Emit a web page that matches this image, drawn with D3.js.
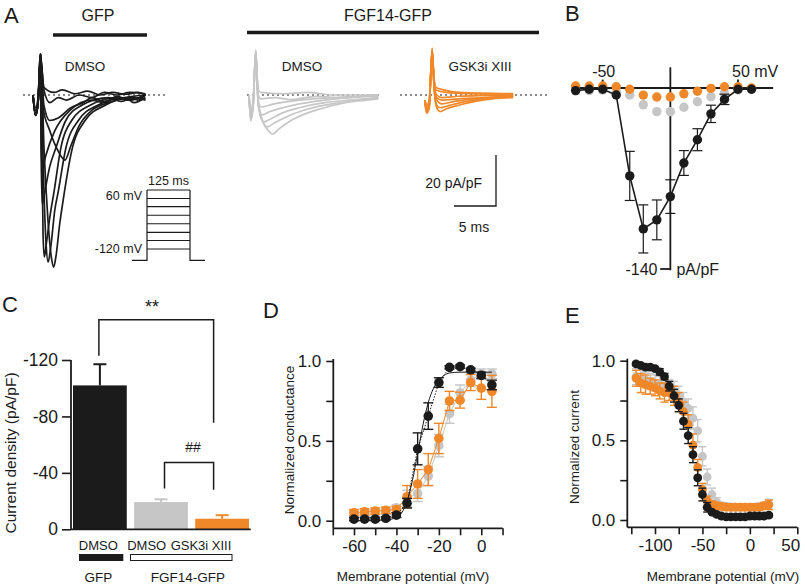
<!DOCTYPE html>
<html><head><meta charset="utf-8">
<script src="https://cdn.jsdelivr.net/npm/d3@7/dist/d3.min.js"></script>
<style>
body{margin:0;background:#fff}
svg{display:block}
text{font-family:"Liberation Sans",Arial,Helvetica,sans-serif;fill:#1a1a1a}
</style>
</head><body>
<svg id="fig" width="805" height="585"></svg>
<script>
// ---------------- DATA ----------------
const BLACK = "#1b1b1b", GRAY = "#c6c6c6", ORANGE = "#f0882a";

// Panel A: current traces, [time ms, current pA/pF]
const tracesGFP = [
  [[0,0],[0.3,-8],[0.6,-3],[0.95,16],[1.3,-20],[1.8,-50],[2.2,-64],[2.45,-67.5],[2.7,-64],[3.2,-50],[3.6,-41],[4.6,-22],[6.2,-10],[8.6,-4],[11.5,-1],[12.5,-2],[13.4,0]],
  [[0,0],[0.3,-8],[0.6,-3],[0.95,16],[1.2,-25],[1.55,-58],[1.8,-65.5],[2.1,-60],[2.6,-45],[3.0,-38],[3.9,-21],[5.4,-10],[7.7,-4],[11,-1],[12,-3],[13.4,-1]],
  [[0,0],[0.3,-8],[0.6,-3],[0.9,16],[1.05,-20],[1.2,-55],[1.35,-63.5],[1.6,-58],[2.0,-48],[2.5,-38],[3.3,-21],[4.6,-10],[6.8,-4],[10,-1],[11.5,-2],[13.4,0]],
  [[0,0],[0.3,-8],[0.6,-3],[0.85,16],[1.0,-30],[1.1,-43],[1.4,-38],[2.0,-28],[2.7,-21],[3.9,-10],[5.8,-4],[9,-1],[10.5,-2.5],[12,-1],[13.4,-2]],
  [[0,0],[0.3,-8],[0.6,-3],[0.85,16],[1.0,-22],[1.1,-29],[1.5,-24],[2.6,-14],[4.4,-6],[7,-2],[8.5,-3],[10,-0.5],[11.5,-2],[13.4,0]],
  [[0,0],[0.3,-8],[0.6,-3],[0.9,16],[1.2,-5],[2,-14],[3,-22],[3.8,-25.5],[4.5,-20],[5.5,-12],[7,-6],[9,-3],[11,-1],[13.4,0]],
  [[0,0],[0.3,-8],[0.6,-3],[0.9,16],[1.3,-4],[2,-10],[3,-9],[4.5,-5],[6,-3],[7,-1],[8.5,-2.5],[10,-1],[11.5,-2],[13.4,0]],
  [[0,0],[0.3,-6],[0.6,-2],[0.9,15],[1.3,2],[2,-3],[3,-1],[4,-2],[5.5,0],[7,-1],[8.5,1],[10,0],[11.5,1],[13.4,0.5]],
  [[0,0],[0.3,-5],[0.6,-1],[0.9,14],[1.3,3],[2.5,1],[3.5,2],[5,0.5],[6.5,1.5],[8,0],[9.5,1],[11,0.3],[12.5,1],[13.4,0]]
];
const tracesFGF = [
  [[0,0],[0.2,-10],[0.5,-4],[0.8,17.6],[1.1,-3],[1.6,-10],[2.3,-14],[2.85,-15.3],[3.5,-13.5],[5,-10],[7,-7],[9,-5],[11.5,-3],[14,-2],[15.4,-1.5]],
  [[0,0],[0.2,-10],[0.5,-4],[0.8,17.6],[1.1,-3],[1.6,-10],[2.2,-12.5],[3,-11],[4.5,-8.5],[6.5,-6],[9,-4],[12,-2.5],[15.4,-1]],
  [[0,0],[0.2,-9],[0.5,-4],[0.8,17],[1.1,-4],[1.7,-10.6],[2.5,-9.5],[4,-7],[6,-5],[9,-3],[12,-2],[15.4,-1]],
  [[0,0],[0.2,-9],[0.5,-3],[0.8,17],[1.1,-3],[1.55,-7.8],[2.5,-6.5],[4,-5],[6,-3.5],[9,-2],[12,-1],[15.4,-0.5]],
  [[0,0],[0.2,-8],[0.5,-3],[0.8,16],[1.1,-2],[1.4,-4.7],[3,-3.5],[6,-2],[10,-1],[15.4,0]],
  [[0,0],[0.2,-7],[0.5,-2],[0.8,16],[1.1,0],[1.4,-1.5],[3,-1],[5,-1.8],[8,-0.5],[11,-1.2],[15.4,0]],
  [[0,0],[0.2,-6],[0.5,-2],[0.8,15],[1.1,2],[1.4,1],[4,0.5],[7,1],[10,0],[15.4,0]]
];
const tracesGSK = [
  [[0,-3],[0.2,-7],[0.5,-5],[0.85,18.4],[1.1,2],[1.4,-5],[1.8,-6.5],[2.5,-5.5],[4,-4],[6,-2.5],[8,-1.5],[10.5,-1]],
  [[0,-3],[0.2,-7],[0.5,-5],[0.85,18],[1.1,2],[1.4,-4],[1.8,-5],[3,-4],[5,-2.5],[8,-1.2],[10.5,-0.8]],
  [[0,-3],[0.2,-6],[0.5,-4],[0.85,17.5],[1.1,3],[1.4,-2],[2,-3.5],[3.5,-2.5],[6,-1.5],[10.5,-0.5]],
  [[0,-3],[0.2,-6],[0.5,-4],[0.85,17],[1.1,3],[1.4,-1],[2,-2],[4,-1.5],[7,-1],[10.5,0]],
  [[0,-2],[0.2,-5],[0.5,-3],[0.85,17],[1.1,4],[1.4,0],[2,-1],[4,-0.5],[10.5,0]],
  [[0,-2],[0.2,-5],[0.5,-3],[0.85,16],[1.1,5],[1.3,2],[2.5,1],[5,0.5],[10.5,0.3]],
  [[0,-2],[0.2,-4],[0.5,-2],[0.85,16],[1.1,6],[1.3,3],[2.2,2],[4,1],[10.5,0.5]]
];
const scaleBarMs = 5, scaleBarPA = 20;
// voltage protocol (mV)
const protocolSteps = [60, 34, 9, -17, -43, -69, -94, -120];
const protocolHold = -155;
const protocolDur = 125;

// Panel B: I-V relation
const ivV   = [-70,-60,-50,-40,-30,-20,-10,0,10,20,30,40,50,60];
const ivGFP = [-2,-1,-1,-5.4,-68,-109,-102,-84,-58,-40,-20,-8.8,-1,-1];
const ivGFPerr = [0,0,0,0,19,18.6,15.4,13,9.6,8.5,6.7,4,0,0];
const ivFGF = [-2,-2,-1.5,-3,-5.4,-13,-18.3,-18.3,-14.9,-10.6,-6.7,-4,-1.5,-1];
const ivGSK = [1.5,1.5,1.5,1,-1,-5.5,-7,-7,-4.5,-2.5,-0.3,1,1,0];

// Panel C: peak current density
const cCats = ["GFP DMSO","FGF14 DMSO","FGF14 GSK3i XIII"];
const cVals = [-102, -19.3, -7.5];
const cErr  = [15, 2, 2.5];
const cColors = [BLACK, GRAY, ORANGE];
const cTicks = [-120,-80,-40,0];

// Panel D: conductance-voltage
const gV = [-60,-55,-50,-45,-40,-35,-30,-25,-20,-15,-10,-5,0,5];
const gGFP = [0.01,0.01,0.01,0.015,0.035,0.11,0.45,0.655,0.865,0.96,0.965,0.945,0.91,0.85];
const gGFPerr = [0.01,0.01,0.01,0.01,0.015,0.03,0.1,0.083,0.03,0.01,0.01,0.01,0.02,0.03];
const gFGF = [0.04,0.045,0.05,0.06,0.08,0.14,0.17,0.28,0.47,0.67,0.8,0.88,0.92,0.92];
const gFGFerr = [0.02,0.02,0.02,0.02,0.02,0.05,0.05,0.06,0.07,0.06,0.05,0.04,0.03,0.03];
const gGSK = [0.05,0.055,0.06,0.065,0.07,0.15,0.23,0.32,0.515,0.75,0.755,0.865,0.83,0.81];
const gGSKerr = [0.02,0.02,0.02,0.02,0.02,0.07,0.09,0.1,0.095,0.06,0.05,0.05,0.07,0.1];
const gFitV = [-60,-45,-40,-37.5,-35,-32.5,-30,-27.5,-25,-22.5,-20,-17.5,-15,-10,-5,0,5];
const gFitGFP = [0,0.005,0.02,0.05,0.12,0.25,0.42,0.6,0.74,0.83,0.88,0.91,0.925,0.93,0.93,0.93,0.93];

// Panel E: steady-state inactivation
const hV = [-120,-115,-110,-105,-100,-95,-90,-85,-80,-75,-70,-65,-60,-55,-50,-45,-40,-35,-30,-25,-20,-15,-10,-5,0,5,10,15,20];
const hGFP = [0.98,0.97,0.96,0.96,0.95,0.93,0.90,0.84,0.78,0.72,0.62,0.53,0.41,0.265,0.16,0.08,0.05,0.035,0.025,0.02,0.02,0.02,0.02,0.02,0.025,0.025,0.025,0.025,0.03];
const hGFPerr = [0.01,0.01,0.01,0.01,0.01,0.02,0.02,0.03,0.04,0.04,0.05,0.05,0.05,0.05,0.04,0.03,0.01,0.01,0.01,0.01,0.01,0.01,0.01,0.01,0.01,0.01,0.01,0.01,0.01];
const hFGF = [0.90,0.89,0.88,0.87,0.86,0.85,0.84,0.83,0.81,0.78,0.74,0.70,0.64,0.56,0.40,0.27,0.16,0.11,0.09,0.085,0.08,0.08,0.08,0.08,0.08,0.08,0.085,0.09,0.1];
const hFGFerr = [0.05,0.05,0.05,0.05,0.05,0.05,0.05,0.05,0.06,0.06,0.06,0.06,0.07,0.07,0.06,0.05,0.04,0.03,0.02,0.02,0.02,0.02,0.02,0.02,0.02,0.02,0.02,0.02,0.03];
const hGSK = [0.89,0.86,0.85,0.84,0.83,0.81,0.80,0.80,0.78,0.74,0.68,0.60,0.47,0.33,0.19,0.12,0.10,0.09,0.085,0.08,0.08,0.08,0.08,0.08,0.08,0.08,0.08,0.09,0.095];
const hGSKerr = [0.05,0.06,0.06,0.05,0.05,0.05,0.06,0.05,0.06,0.06,0.06,0.06,0.07,0.05,0.04,0.03,0.02,0.02,0.02,0.02,0.02,0.02,0.02,0.02,0.02,0.02,0.02,0.02,0.03];

// ---------------- DRAW ----------------
const svg = d3.select("#fig");
const FONT = '"Liberation Sans",Arial,Helvetica,sans-serif';
function txt(g, x, y, s, size, anchor) {
  return g.append("text").attr("x", x).attr("y", y).text(s)
    .attr("font-size", size).attr("text-anchor", anchor || "start");
}
function hline(g, x1, x2, y, w, col, dash) {
  const l = g.append("line").attr("x1", x1).attr("x2", x2).attr("y1", y).attr("y2", y)
    .attr("stroke", col || BLACK).attr("stroke-width", w || 1);
  if (dash) l.attr("stroke-dasharray", dash);
  return l;
}
function vline(g, x, y1, y2, w, col) {
  return g.append("line").attr("x1", x).attr("x2", x).attr("y1", y1).attr("y2", y2)
    .attr("stroke", col || BLACK).attr("stroke-width", w || 1);
}

// ===== Panel letters
[["A",4,23],["B",565,21],["C",2,312],["D",263,318],["E",565,323]].forEach(d =>
  txt(svg, d[1], d[2], d[0], 22));

// ===== Panel A
const A = svg.append("g");
txt(A, 98, 21, "GFP", 16, "middle");
txt(A, 388, 21, "FGF14-GFP", 16, "middle");
hline(A, 53, 147, 35, 3.5);
hline(A, 247, 539, 32.5, 3.5);
txt(A, 85, 71, "DMSO", 13.5, "middle");
txt(A, 302, 71, "DMSO", 13.5, "middle");
txt(A, 480, 71, "GSK3i XIII", 13.5, "middle");

const baseY = 95;
function traceScales(x0) {
  return {
    x: d3.scaleLinear().domain([0, scaleBarMs]).range([x0, x0 + 42]),
    y: d3.scaleLinear().domain([0, -scaleBarPA]).range([baseY, baseY + 51])
  };
}
function drawTraces(traces, x0, col, dotFrom, dotTo) {
  const s = traceScales(x0);
  hline(A, dotFrom, dotTo, baseY, 1.2, BLACK, "2,3");
  const line = d3.line().x(d => s.x(d[0])).y(d => s.y(d[1])).curve(d3.curveMonotoneX);
  A.append("g").selectAll("path").data(traces).join("path")
    .attr("d", line).attr("fill", "none").attr("stroke", col)
    .attr("stroke-width", 1.7).attr("stroke-linejoin", "round");
}
drawTraces(tracesGFP, 33, BLACK, 23, 165);
drawTraces(tracesFGF, 249, GRAY, 247, 382);
drawTraces(tracesGSK, 425, ORANGE, 400, 548);

// scale bar
{
  const sx = d3.scaleLinear().domain([0, scaleBarMs]).range([454, 496]);
  const sy = d3.scaleLinear().domain([0, scaleBarPA]).range([206, 155]);
  A.append("path").attr("d", `M${sx(0)},${sy(0)}H${sx(scaleBarMs)}V${sy(scaleBarPA)}`)
    .attr("fill", "none").attr("stroke", BLACK).attr("stroke-width", 1.3);
  txt(A, 482, 188, scaleBarPA + " pA/pF", 14, "end");
  txt(A, 474, 232, scaleBarMs + " ms", 14, "middle");
}
// voltage protocol
{
  const px = d3.scaleLinear().domain([-15, 0, protocolDur, protocolDur + 15]).range([132, 147, 190, 205]);
  const pv = d3.scaleLinear().domain([60, -120]).range([190, 249]);
  const P = A.append("g").attr("stroke", BLACK).attr("stroke-width", 1.2).attr("fill", "none");
  protocolSteps.forEach(v => P.append("line").attr("x1", px(0)).attr("x2", px(protocolDur)).attr("y1", pv(v)).attr("y2", pv(v)));
  P.append("path").attr("d", `M${px(-15)},${pv(protocolHold)}H${px(0)}V${pv(60)}M${px(protocolDur)},${pv(60)}V${pv(protocolHold)}H${px(protocolDur + 15)}`);
  txt(A, (px(0) + px(protocolDur)) / 2, 185, protocolDur + " ms", 12.5, "middle");
  txt(A, 142, 200, "60 mV", 12.5, "end");
  txt(A, 142, 253, "-120 mV", 12.5, "end");
}

// ===== Panel B
{
  const B = svg.append("g");
  const x = d3.scaleLinear().domain([-50, 50]).range([602.7, 738]);
  const y = d3.scaleLinear().domain([0, -140]).range([88, 269]);
  hline(B, x(-72.5), x(76), y(0), 1.8);
  vline(B, x(0), y(16), y(-141), 1.8);
  hline(B, x(-7.5), x(0), y(-140), 1.8);
  [-50, 50].forEach(v => vline(B, x(v), y(0), y(6.5), 1.8));
  txt(B, x(-50) + 1, 77, "-50", 16, "middle");
  txt(B, x(50) - 6, 77, "50 mV", 16, "start");
  txt(B, x(-9.5), 275, "-140", 16, "end");
  txt(B, x(4.5), 275, "pA/pF", 16, "start");
  const r = 4.7;
  B.append("g").selectAll("circle").data(ivV).join("circle")
    .attr("cx", v => x(v)).attr("cy", (v, i) => y(ivFGF[i])).attr("r", r).attr("fill", GRAY);
  B.append("g").selectAll("circle").data(ivV).join("circle")
    .attr("cx", v => x(v)).attr("cy", (v, i) => y(ivGSK[i])).attr("r", r).attr("fill", ORANGE);
  const line = d3.line().x((d, i) => x(ivV[i])).y(d => y(d));
  B.append("path").attr("d", line(ivGFP)).attr("fill", "none").attr("stroke", BLACK).attr("stroke-width", 1.6);
  const eb = B.append("g").attr("stroke", BLACK).attr("stroke-width", 1.2);
  ivV.forEach((v, i) => {
    if (!ivGFPerr[i]) return;
    const t = y(ivGFP[i] - ivGFPerr[i]), b = y(ivGFP[i] + ivGFPerr[i]);
    eb.append("line").attr("x1", x(v)).attr("x2", x(v)).attr("y1", t).attr("y2", b);
    eb.append("line").attr("x1", x(v) - 5).attr("x2", x(v) + 5).attr("y1", t).attr("y2", t);
    eb.append("line").attr("x1", x(v) - 5).attr("x2", x(v) + 5).attr("y1", b).attr("y2", b);
  });
  B.append("g").selectAll("circle").data(ivV).join("circle")
    .attr("cx", v => x(v)).attr("cy", (v, i) => y(ivGFP[i])).attr("r", r).attr("fill", BLACK);
}

// ===== Panel C
{
  const C = svg.append("g");
  const y = d3.scaleLinear().domain([0, -120]).range([529.3, 360]);
  const x = d3.scaleBand().domain(cCats).range([73, 249]).paddingInner(0.12);
  C.selectAll("rect.bar").data(cCats).join("rect").attr("class", "bar")
    .attr("x", d => x(d)).attr("width", x.bandwidth())
    .attr("y", (d, i) => y(cVals[i])).attr("height", (d, i) => y(0) - y(cVals[i]))
    .attr("fill", (d, i) => cColors[i]);
  cCats.forEach((c, i) => {
    const cx = x(c) + x.bandwidth() / 2, t = y(cVals[i] - cErr[i]);
    vline(C, cx, y(cVals[i]), t, 2, cColors[i]);
    hline(C, cx - 6.5, cx + 6.5, t, 2, cColors[i]);
  });
  const ax = d3.axisLeft(y).tickValues(cTicks).tickSize(9).tickPadding(4).tickFormat(d => d === 0 ? "0" : "-" + Math.abs(d));
  const ag = C.append("g").attr("transform", "translate(71,0)").call(ax);
  ag.select(".domain").remove();
  ag.selectAll("line").attr("stroke", BLACK).attr("stroke-width", 1.6);
  ag.selectAll("text").attr("font-size", 17.5).attr("font-family", FONT).attr("fill", BLACK);
  vline(C, 71, 360, 529.3, 1.8);
  hline(C, 71, 250.7, 529.3, 1.8);
  C.append("text").attr("transform", "translate(16,453) rotate(-90)").attr("text-anchor", "middle")
    .attr("font-size", 15.5).text("Current density (pA/pF)");
  const cx = i => x(cCats[i]) + x.bandwidth() / 2;
  const br = C.append("g").attr("fill", "none").attr("stroke", BLACK).attr("stroke-width", 1.5);
  br.append("path").attr("d", `M${cx(0) - 1},${y(-123)}V${y(-148.5)}H${cx(2) - 8.5}V${y(-75.5)}`);
  br.append("path").attr("d", `M${cx(1) + 3.5},${y(-29)}V${y(-47.3)}H${cx(2) - 8.5}V${y(-28)}`);
  txt(C, 152, 313, "**", 18, "middle");
  txt(C, 193, 452, "##", 14, "middle");
  txt(C, 98.3, 550, "DMSO", 13, "middle");
  txt(C, 146.7, 550, "DMSO", 13, "middle");
  txt(C, 201, 550, "GSK3i XIII", 13, "middle");
  C.append("rect").attr("x", 79).attr("y", 554).attr("width", 44.3).attr("height", 7).attr("fill", BLACK);
  C.append("rect").attr("x", 130.5).attr("y", 554.5).attr("width", 101.5).attr("height", 6).attr("fill", "#fff").attr("stroke", BLACK).attr("stroke-width", 1);
  txt(C, 98.3, 582, "GFP", 13.5, "middle");
  txt(C, 188, 582, "FGF14-GFP", 13.5, "middle");
}

// ===== Generic scatter panel
function scatterPanel(opts) {
  const g = svg.append("g");
  const { x, y, xAxisY, yAxisX } = opts;
  const xa = d3.axisBottom(x).tickValues(opts.xTicks).tickSize(7).tickPadding(5)
    .tickFormat(d => opts.xLabels.includes(d) ? (d < 0 ? "-" + Math.abs(d) : String(d)) : "");
  const xg = g.append("g").attr("transform", `translate(0,${xAxisY})`).call(xa);
  xg.select(".domain").remove();
  xg.selectAll("line").attr("stroke", BLACK).attr("stroke-width", 1.6);
  xg.selectAll("text").attr("font-size", 17).attr("font-family", FONT).attr("fill", BLACK);
  if (opts.lastLabelShift) xg.selectAll("text").filter(d => d === opts.xTicks[opts.xTicks.length - 1]).attr("dx", opts.lastLabelShift);
  const ya = d3.axisLeft(y).tickValues([0, 0.25, 0.5, 0.75, 1]).tickSize(7).tickPadding(5)
    .tickFormat(d => (d === 0 || d === 0.5 || d === 1) ? d.toFixed(1) : "");
  const yg = g.append("g").attr("transform", `translate(${yAxisX},0)`).call(ya);
  yg.select(".domain").remove();
  yg.selectAll("line").attr("stroke", BLACK).attr("stroke-width", 1.6);
  yg.selectAll("text").attr("font-size", 17).attr("font-family", FONT).attr("fill", BLACK);
  hline(g, yAxisX, opts.xEnd, xAxisY, 1.8);
  vline(g, yAxisX, y(1) - 2, xAxisY, 1.8);
  txt(g, opts.xTitleX, 581, "Membrane potential (mV)", 13.5, "middle");
  g.append("text").attr("transform", `translate(${opts.yTitleX},${opts.yTitleY}) rotate(-90)`)
    .attr("text-anchor", "middle").attr("font-size", 13.5).text(opts.yTitle);
  return g;
}
function series(g, x, y, vs, vals, errs, col, r, cap, lineStyle) {
  if (lineStyle) {
    const l = d3.line().x((d, i) => x(vs[i])).y(d => y(d));
    const p = g.append("path").attr("d", l(vals)).attr("fill", "none").attr("stroke", col).attr("stroke-width", lineStyle.w);
    if (lineStyle.dash) p.attr("stroke-dasharray", lineStyle.dash);
  }
  const eb = g.append("g").attr("stroke", col).attr("stroke-width", 1.4);
  vs.forEach((v, i) => {
    const t = y(vals[i] + errs[i]), b = y(vals[i] - errs[i]);
    eb.append("line").attr("x1", x(v)).attr("x2", x(v)).attr("y1", t).attr("y2", b);
    eb.append("line").attr("x1", x(v) - cap).attr("x2", x(v) + cap).attr("y1", t).attr("y2", t);
    eb.append("line").attr("x1", x(v) - cap).attr("x2", x(v) + cap).attr("y1", b).attr("y2", b);
  });
  g.append("g").selectAll("circle").data(vs).join("circle")
    .attr("cx", v => x(v)).attr("cy", (v, i) => y(vals[i])).attr("r", r).attr("fill", col);
}

// ===== Panel D
{
  const x = d3.scaleLinear().domain([-60, 0]).range([354, 481.3]);
  const y = d3.scaleLinear().domain([0, 1]).range([520.7, 361]);
  const g = scatterPanel({ x, y, xAxisY: 528.3, yAxisX: 333.3, xEnd: 502.7,
    xTicks: [-70,-60,-50,-40,-30,-20,-10,0,10], xLabels: [-60,-40,-20,0],
    xTitleX: 413, yTitleX: 294, yTitleY: 440, yTitle: "Normalized conductance" });
  series(g, x, y, gV, gFGF, gFGFerr, GRAY, 4.8, 5, { w: 1 });
  series(g, x, y, gV, gGSK, gGSKerr, ORANGE, 4.8, 5, { w: 1 });
  const fit = d3.line().x((d, i) => x(gFitV[i])).y(d => y(d)).curve(d3.curveMonotoneX);
  g.append("path").attr("d", fit(gFitGFP)).attr("fill", "none").attr("stroke", BLACK).attr("stroke-width", 1);
  series(g, x, y, gV, gGFP, gGFPerr, BLACK, 4.8, 5, { w: 1, dash: "1.5,1.5" });
}

// ===== Panel E
{
  const x = d3.scaleLinear().domain([-100, 50]).range([655, 797.3]);
  const y = d3.scaleLinear().domain([0, 1]).range([520, 360.7]);
  const g = scatterPanel({ x, y, xAxisY: 527.3, yAxisX: 627.3, xEnd: 797.3,
    xTicks: [-125,-100,-75,-50,-25,0,25,50], xLabels: [-100,-50,0,50], lastLabelShift: -7,
    xTitleX: 723, yTitleX: 579, yTitleY: 447, yTitle: "Normalized current" });
  series(g, x, y, hV, hFGF, hFGFerr, GRAY, 4.4, 4, null);
  series(g, x, y, hV, hGSK, hGSKerr, ORANGE, 4.4, 4, null);
  series(g, x, y, hV, hGFP, hGFPerr, BLACK, 4.4, 4, null);
}
</script>
</body></html>
